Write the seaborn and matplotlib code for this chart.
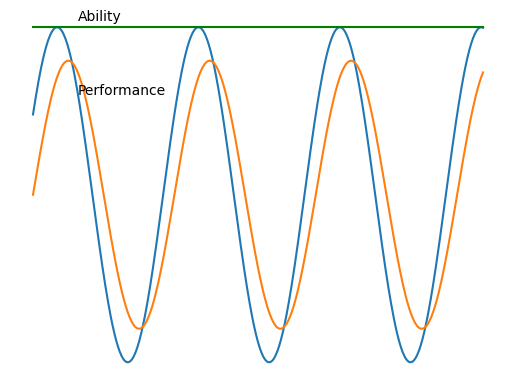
import numpy as np
import pandas as pd
import matplotlib
matplotlib.use("Agg")
import matplotlib.pyplot as plt
import seaborn as sns

# Curve parameters (x range 0..20, period 2*pi)
x_range = [0.0, 20.0]
ability_level = [1.0, 1.0]
blue_amplitude = 1.0
blue_phase = 0.5
orange_amplitude = 0.8
orange_phase = 0.0
labels = ["Ability", "Performance"]
label_pos_x = [2.0, 2.0]
label_pos_y = [1.036, 0.595]

x = np.linspace(x_range[0], x_range[1], 500)
df = pd.DataFrame({
    "x": x,
    "blue": blue_amplitude * np.sin(x + blue_phase),
    "orange": orange_amplitude * np.sin(x + orange_phase),
})
df_ability = pd.DataFrame({"x": x_range, "y": ability_level})

fig = plt.figure(figsize=(5.15, 3.9), dpi=100)
ax = fig.add_axes([10.5 / 515, 11 / 390, 495 / 515, 368.5 / 390])

sns.lineplot(data=df, x="x", y="blue", ax=ax, color="#1f77b4", linewidth=1.5)
sns.lineplot(data=df, x="x", y="orange", ax=ax, color="#ff7f0e", linewidth=1.5)
sns.lineplot(data=df_ability, x="x", y="y", ax=ax, color="green", linewidth=1.5)

for t, tx, ty in zip(labels, label_pos_x, label_pos_y):
    ax.text(tx, ty, t, fontsize=10, va="baseline", ha="left")

ax.set_xlim(-1, 21)
ax.set_ylim(-1.1, 1.1)
ax.axis("off")

fig.savefig("out.png", dpi=100)
